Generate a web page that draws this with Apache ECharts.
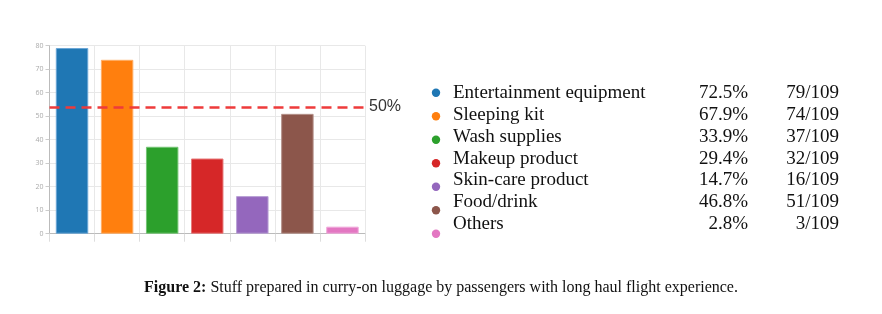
<!DOCTYPE html>
<html>
<head>
<meta charset="utf-8">
<script src="https://cdn.jsdelivr.net/npm/echarts@6/dist/echarts.min.js"></script>
<style>
html,body{margin:0;padding:0;background:#fff;}
#c{width:882px;height:314px;}
</style>
</head>
<body>
<div id="c"></div>
<script>
var categories = ['Entertainment equipment','Sleeping kit','Wash supplies','Makeup product','Skin-care product','Food/drink','Others'];
var counts = [79, 74, 37, 32, 16, 51, 3];
var percents = ['72.5%','67.9%','33.9%','29.4%','14.7%','46.8%','2.8%'];
var total = 109;
var thresholdValue = 54;
var thresholdLabel = '50%';
var yTicks = {min: 0, max: 80, interval: 10};
var caption = {bold: 'Figure 2:', rest: ' Stuff prepared in curry-on luggage by passengers with long haul flight experience.'};

var colors = ['#1f77b4','#ff7f0e','#2ca02c','#d62728','#9467bd','#8c564b','#e377c2'];
var borders = ['#6aa6d6','#ffae66','#74c474','#e77a7a','#b9a0d6','#b4918a','#f0a8da'];

var chart = echarts.init(document.getElementById('c'), null, {renderer:'canvas'});

var graphics = [];
var legX = 436, circY0 = 92.7, circStep = 23.5, textY0 = 94.5, textStep = 21.7;
var legFont = '19px "Liberation Serif", serif';
categories.forEach(function(name, i){
  graphics.push({type:'circle', shape:{cx:legX, cy:circY0 + i*circStep, r:4.2}, style:{fill:colors[i]}});
  graphics.push({type:'text', left:453, top:textY0 + i*textStep - 10.5, style:{text:name, font:legFont, fill:'#111'}});
  graphics.push({type:'text', right:882-748, top:textY0 + i*textStep - 10.5, style:{text:percents[i], font:legFont, fill:'#111', textAlign:'right'}});
  graphics.push({type:'text', right:882-839, top:textY0 + i*textStep - 10.5, style:{text:counts[i] + '/' + total, font:legFont, fill:'#111', textAlign:'right'}});
});
graphics.push({
  type:'text', left:'center', top:280,
  style:{
    text:'{b|' + caption.bold + '}{n|' + caption.rest + '}',
    rich:{
      b:{font:'bold 16px "Liberation Serif", serif', fill:'#111'},
      n:{font:'16px "Liberation Serif", serif', fill:'#111'}
    }
  }
});

chart.setOption({
  animation:false,
  backgroundColor:'#fff',
  grid:{left:49.5, right:517, top:45.7, bottom:80.3},
  xAxis:{
    type:'category', data:categories,
    axisLine:{show:true, lineStyle:{color:'#bbb'}},
    axisTick:{show:true, interval:0, length:8, lineStyle:{color:'#ddd'}},
    axisLabel:{show:false, interval:0},
    splitLine:{show:true, interval:0, lineStyle:{color:'#e8e8e8'}}
  },
  yAxis:{
    type:'value', min:yTicks.min, max:yTicks.max, interval:yTicks.interval,
    axisLine:{show:true, lineStyle:{color:'#bbb'}},
    axisTick:{show:true, length:4, lineStyle:{color:'#ccc'}},
    axisLabel:{fontSize:7, color:'#aaa', margin:6, fontFamily:'Open Sans'},
    splitLine:{show:true, lineStyle:{color:'#e8e8e8'}}
  },
  series:[{
    type:'bar',
    barWidth:'72%',
    data:counts.map(function(v,i){return {value:v, itemStyle:{color:colors[i], borderColor:borders[i], borderWidth:1}};}),
    markLine:{
      silent:true, symbol:'none',
      lineStyle:{color:'#ee3b3b', width:2.5, type:[10,6]},
      label:{show:true, position:'end', formatter:thresholdLabel, fontSize:16, color:'#333', fontFamily:'Liberation Sans', distance:4},
      data:[{yAxis:thresholdValue}]
    }
  }],
  graphic:graphics
});
</script>
</body>
</html>
